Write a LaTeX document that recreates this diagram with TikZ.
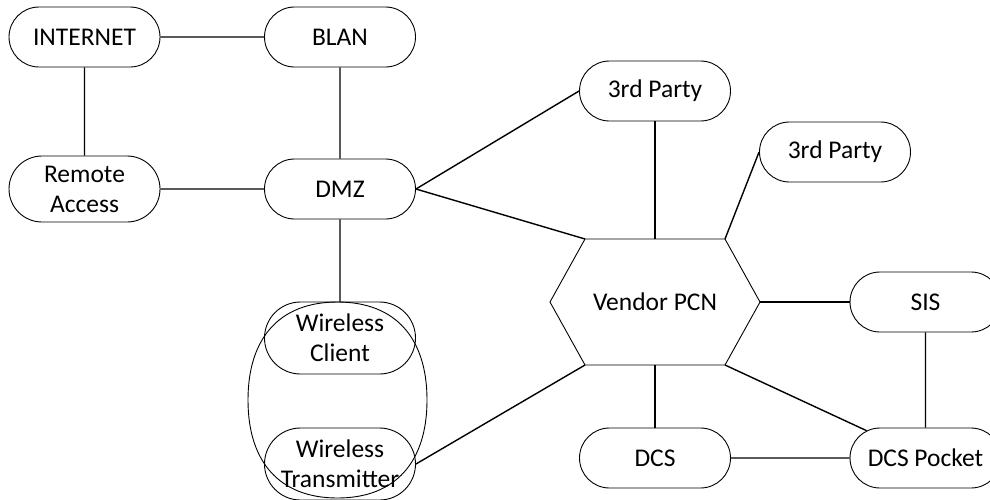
\documentclass[tikz,border=0pt]{standalone}
\usepackage{fontspec}
\setmainfont{Carlito}
\usetikzlibrary{shapes.misc}
\begin{document}
\begin{tikzpicture}[x=1pt,y=-1pt,
  pill/.style={rounded rectangle, draw, line width=0.9pt, minimum width=151pt,
    minimum height=60pt, inner sep=0pt, align=center},
  tallpill/.style={pill, minimum height=72pt},
  label/.style={font=\fontsize{25.5}{30}\selectfont},
  link/.style={line width=1.4pt},
  outline/.style={line width=0.9pt}]
\useasboundingbox (0,0) rectangle (990,499);
\clip (0,0) rectangle (990,499);
\tikzset{every node/.append style={label}}

% corporate side
\node[pill] (internet) at (84.5,37) {INTERNET};
\node[pill] (blan) at (340,37) {BLAN};
\node[pill, minimum height=66pt] (remote) at (84.5,189) {Remote\\Access};
\node[pill] (dmz) at (340,189) {DMZ};

% wireless group
\draw[outline] (337.5,302) .. controls (279.5,302) and (248,338) .. (248,400)
  .. controls (248,462) and (279.5,498) .. (337.5,498)
  .. controls (395.5,498) and (427,462) .. (427,400)
  .. controls (427,338) and (395.5,302) .. cycle;
\node[tallpill] (wclient) at (340,338) {Wireless\\Client};
\node[tallpill] (wtrans) at (340,464) {Wireless\\Transmitter};

% vendor process control network
\coordinate (hexL) at (550,302);
\coordinate (hexTL) at (585,239);
\coordinate (hexTR) at (725,239);
\coordinate (hexR) at (760,302);
\coordinate (hexBR) at (725,365);
\coordinate (hexBL) at (585,365);
\coordinate (hexT) at (655,239);
\coordinate (hexB) at (655,365);
\draw[outline] (hexL) -- (hexTL) -- (hexTR) -- (hexR) -- (hexBR) -- (hexBL) -- cycle;
\node (pcn) at (655,302) {Vendor PCN};

\node[pill] (tp1) at (655,91) {3rd Party};
\node[pill] (tp2) at (835,152) {3rd Party};
\node[pill] (sis) at (925.5,302) {SIS};
\node[pill] (dcs) at (655,458) {DCS};
\node[pill] (dcsp) at (925.5,458) {DCS Pocket};

% links
\draw[link] (internet) -- (blan);
\draw[link] (internet) -- (remote);
\draw[link] (blan) -- (dmz);
\draw[link] (remote) -- (dmz);
\draw[link] (dmz.east) -- (tp1.west);
\draw[link] (dmz.east) -- (hexTL);
\draw[link] (dmz) -- (wclient);
\draw[link] (tp1) -- (hexT);
\draw[link] (tp2.west) -- (hexTR);
\draw[link] (hexR) -- (sis);
\draw[link] (hexB) -- (dcs);
\draw[link] (hexBR) -- (dcsp);
\draw[link] (hexBL) -- (wtrans.east);
\draw[link] (sis) -- (dcsp);
\draw[link] (dcs) -- (dcsp);
\end{tikzpicture}
\end{document}
